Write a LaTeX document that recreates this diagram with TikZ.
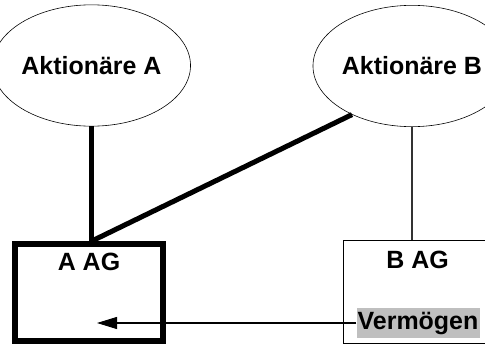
\documentclass[tikz,border=0pt]{standalone}
\usepackage{fontspec}
\setmainfont{Liberation Sans}
\usetikzlibrary{shapes.geometric,arrows.meta}

\tikzset{
  aktionaer/.style={draw, ellipse, line width=0.5pt, minimum width=4.85cm, minimum height=3.64cm, inner sep=0pt},
  gesellschaft/.style={draw, rectangle, minimum width=4.44cm, minimum height=2.9cm, inner sep=0pt},
  beschriftung/.style={font=\fontsize{21.3}{24}\selectfont\bfseries, inner sep=0pt}
}

\begin{document}
\begin{tikzpicture}
			\clip (0,0) rectangle (14.55,10.32);

			% Aktionäre
			\node[aktionaer, beschriftung] (aktA) at (2.745,8.355) {Aktionäre A};
			\node[aktionaer, beschriftung] (aktB) at (12.36,8.34) {Aktionäre B};

			% Gesellschaften
			\node[gesellschaft, line width=5.1pt] (agA) at (2.67,1.545) {};
			\node[gesellschaft, line width=0.7pt, minimum width=4.6cm, minimum height=3.09cm] (agB) at (12.6,1.56) {};
			\node[beschriftung, anchor=center] (agAtext) at (2.67,2.46) {A AG};
			\node[beschriftung, anchor=center] (agBtext) at (12.53,2.52) {B AG};

			% Vermögen von B
			\node[beschriftung, fill=black!25, inner xsep=1pt, inner ysep=3pt] (vermoegen) at (12.54,0.63) {Vermögen};

			% Beteiligungen
			\coordinate (anschlussA) at (aktA.south |- agA.north);
			\draw[line width=4.3pt] (aktA.south) -- (anschlussA);
			\draw[line width=4.3pt] (aktB.219) -- (anschlussA);
			\draw[line width=0.9pt, black!80] (aktB.south) -- (aktB.south |- agB.north);

			% Übertragung des Vermögens
			\coordinate (ziel) at (2.91,0.63);
			\draw[-{Triangle[length=0.6cm, width=0.36cm]}, line width=0.9pt] (vermoegen.west) -- (ziel);

		\end{tikzpicture}
\end{document}
